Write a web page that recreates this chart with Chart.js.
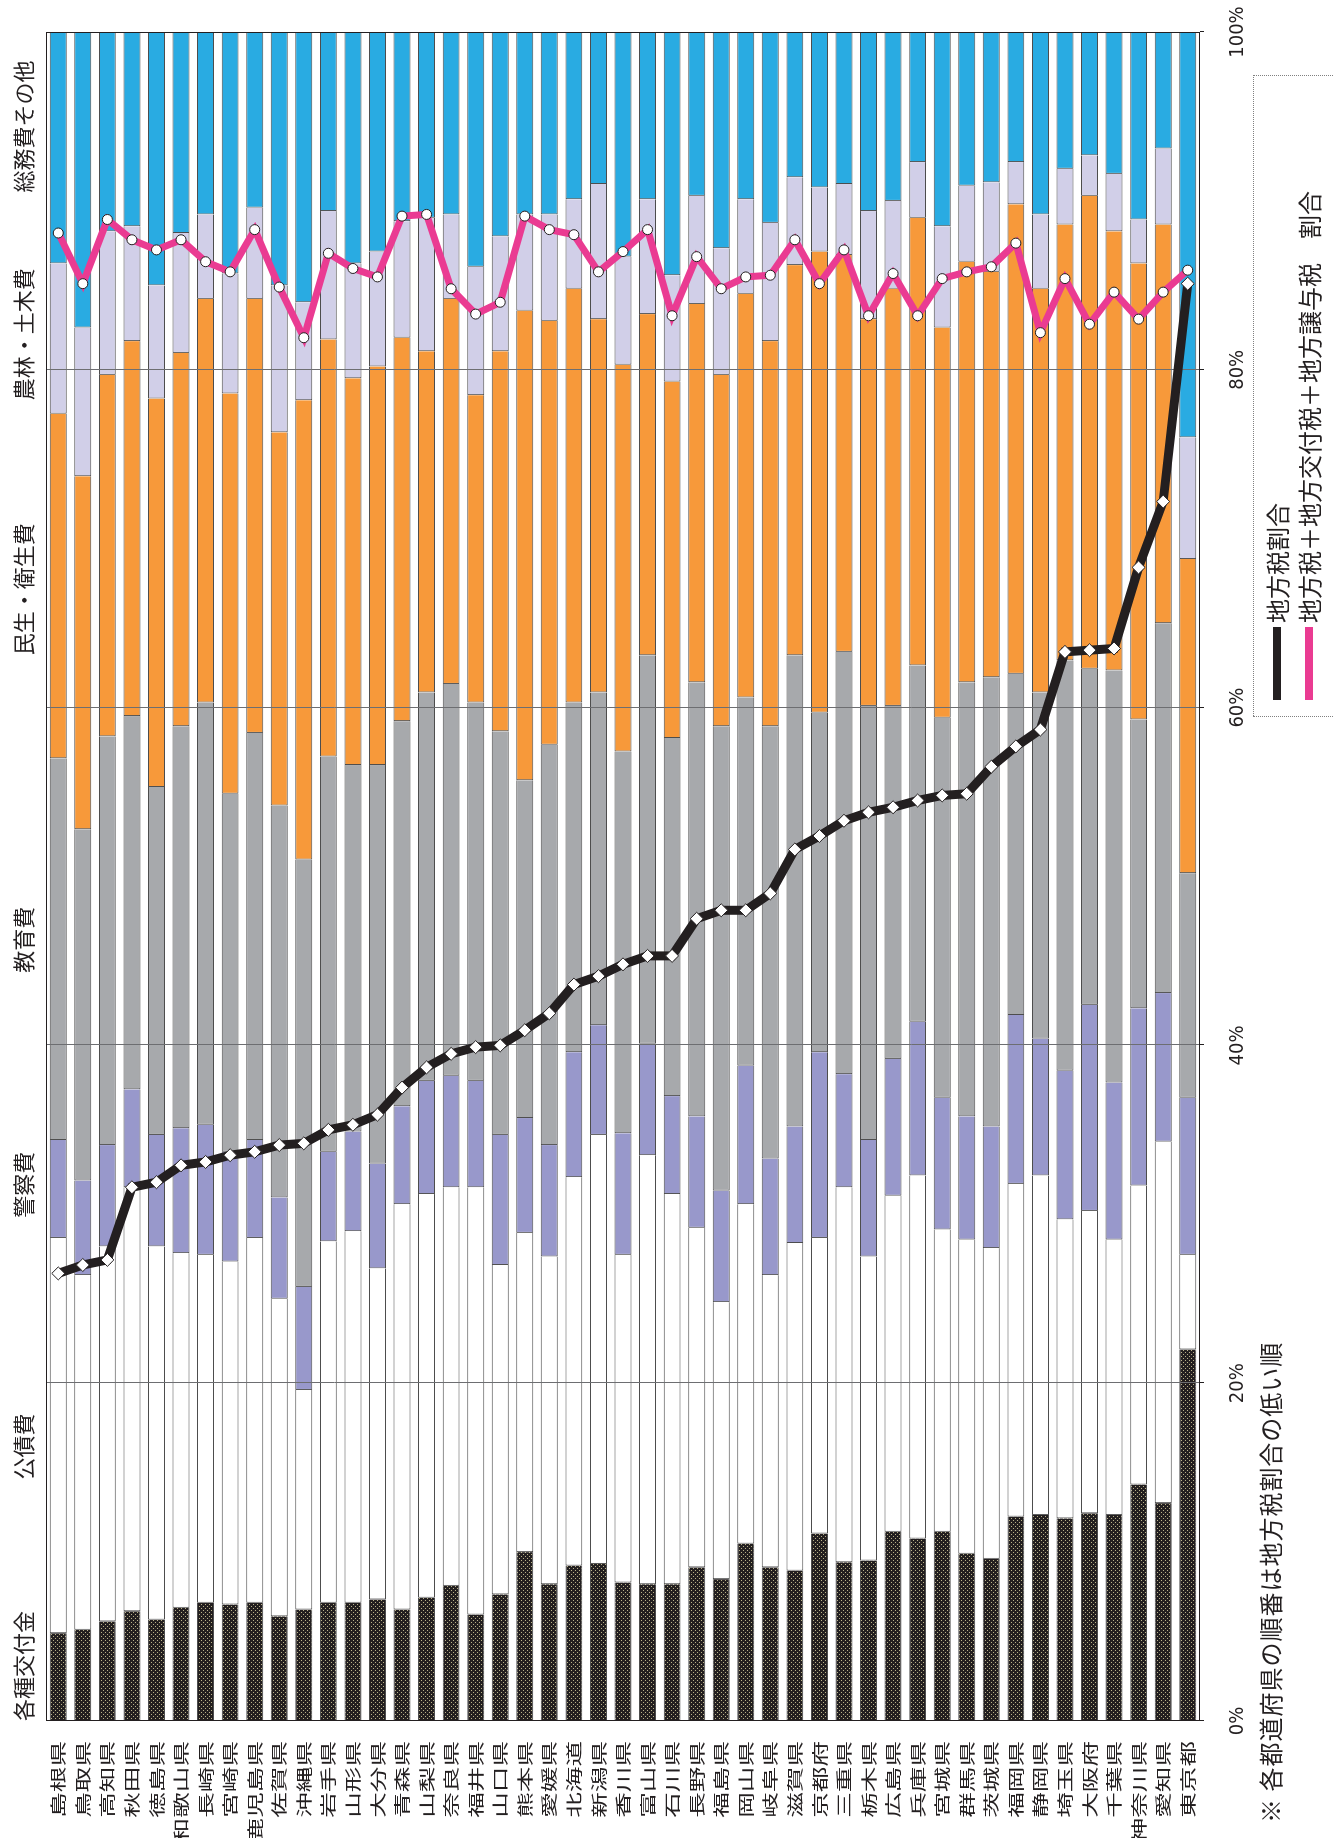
<!DOCTYPE html>
<html><head><meta charset="utf-8">
<script src="https://cdn.jsdelivr.net/npm/chart.js@4.4.1/dist/chart.umd.min.js"></script>
<style>
html,body{margin:0;padding:0;background:#fff;width:1333px;height:1838px;overflow:hidden;}
#rot{position:absolute;left:0;top:0;width:1838px;height:1333px;transform-origin:0 0;transform:translate(0px,1838px) rotate(-90deg);background:#fff;}
#c{position:absolute;left:0;top:0;}
.jp{font-family:"Noto Sans CJK JP","Noto Sans CJK SC",sans-serif;color:#231f20;white-space:nowrap;}
#legend{position:absolute;left:1121px;top:1253px;width:642px;height:140px;border:1px dotted #808080;box-sizing:border-box;}
#legend .icon{position:absolute;left:16px;width:73px;height:8px;}
#legend .ltext{position:absolute;left:93px;font-size:24px;line-height:28px;}
#note{position:absolute;left:15px;top:1256px;font-size:24px;line-height:28px;letter-spacing:1px;}
</style></head><body>
<div id="rot">
<canvas id="c" width="1838" height="1333"></canvas>
<div id="legend" class="jp"></div>
<div id="note" class="jp">※ 各都道府県の順番は地方税割合の低い順</div>
</div>
<script>
const prefectures = ['島根県','鳥取県','高知県','秋田県','徳島県','和歌山県','長崎県','宮崎県','鹿児島県','佐賀県','沖縄県','岩手県','山形県','大分県','青森県','山梨県','奈良県','福井県','山口県','熊本県','愛媛県','北海道','新潟県','香川県','富山県','石川県','長野県','福島県','岡山県','岐阜県','滋賀県','京都府','三重県','栃木県','広島県','兵庫県','宮城県','群馬県','茨城県','福岡県','静岡県','埼玉県','大阪府','千葉県','神奈川県','愛知県','東京都'];
const seriesNames = ['各種交付金','公債費','警察費','教育費','民生・衛生費','農林・土木費','総務費その他'];
const kakushu  = [5.2,5.4,5.9,6.5,6.0,6.7,7.0,6.9,7.0,6.2,6.6,7.0,7.0,7.2,6.6,7.3,8.0,6.3,7.5,10.0,8.1,9.2,9.3,8.2,8.1,8.1,9.1,8.4,10.5,9.1,8.9,11.1,9.4,9.5,11.2,10.8,11.2,9.9,9.6,12.1,12.2,12.0,12.3,12.2,14.0,12.9,22.0];
const kousai   = [23.4,21.0,22.2,25.1,22.1,21.0,20.6,20.3,21.6,18.8,13.0,21.4,22.0,19.6,24.0,23.9,23.6,25.3,19.5,18.9,19.4,23.0,25.4,19.4,25.4,23.1,20.1,16.4,20.1,17.3,19.4,17.5,22.2,18.0,19.9,21.5,17.9,18.6,18.4,19.7,20.1,17.7,17.9,16.3,17.7,21.4,5.6];
const keisatsu = [5.8,5.6,6.0,5.8,6.6,7.4,7.7,6.5,5.8,6.0,6.1,5.3,5.9,6.2,5.8,6.7,6.6,6.3,7.7,6.8,6.6,7.4,6.5,7.2,6.6,5.8,6.6,6.6,8.2,6.9,6.9,11.0,6.7,6.9,8.1,9.1,7.8,7.3,7.2,10.0,8.1,8.8,12.2,9.3,10.5,8.8,9.3];
const kyouiku  = [22.6,20.8,24.2,22.1,20.6,23.8,25.0,21.2,24.1,23.2,25.3,23.4,21.7,23.6,22.8,23.0,23.2,22.4,23.9,20.0,23.7,20.7,19.7,22.6,23.0,21.2,25.7,27.5,21.8,25.6,27.9,20.1,25.0,25.7,20.9,21.1,22.5,25.7,26.6,20.2,20.5,24.3,19.9,24.4,17.1,21.9,13.3];
const minsei   = [20.4,20.9,21.4,22.2,23.0,22.1,23.9,23.7,25.7,22.1,27.2,24.7,22.9,23.6,22.7,20.2,22.8,18.2,22.5,27.8,25.1,24.5,22.1,22.9,20.2,21.1,22.4,20.8,23.9,22.8,23.1,27.3,23.5,22.9,24.7,26.5,23.1,24.9,24.0,27.8,23.9,25.8,28.0,26.0,27.0,23.6,18.6];
const norin    = [8.9,8.8,8.5,6.8,6.7,7.1,5.0,7.1,5.4,8.7,5.8,7.6,6.8,6.8,6.9,7.9,5.0,7.6,6.8,5.7,6.3,5.3,8.0,6.4,6.8,6.3,6.4,7.5,5.6,7.0,5.2,3.8,4.2,6.4,5.2,3.3,6.0,4.5,5.3,2.5,4.4,3.3,2.4,3.4,2.6,4.5,7.2];
const soumu    = [13.7,17.5,11.8,11.5,15.0,11.9,10.8,14.3,10.4,15.0,16.0,10.6,13.7,13.0,11.2,11.0,10.8,13.9,12.1,10.8,10.8,9.9,9.0,13.3,9.9,14.4,9.7,12.8,9.9,11.3,8.6,9.2,9.0,10.6,10.0,7.7,11.5,9.1,8.9,7.7,10.8,8.1,7.3,8.4,11.1,6.9,24.0];
const lineNames = ['地方税割合','地方税＋地方交付税＋地方譲与税　割合'];
const chihouzei = [26.5,27.0,27.3,31.6,31.9,32.9,33.1,33.5,33.7,34.1,34.2,35.0,35.3,35.9,37.5,38.7,39.5,39.9,40.0,40.9,41.9,43.6,44.1,44.8,45.3,45.3,47.5,48.0,48.0,49.0,51.6,52.4,53.3,53.8,54.1,54.5,54.8,54.9,56.5,57.7,58.7,63.3,63.4,63.5,68.3,72.2,85.1];
const zeiTotal  = [88.1,85.1,88.9,87.7,87.1,87.7,86.4,85.8,88.3,84.9,81.9,86.9,86.0,85.5,89.1,89.2,84.8,83.3,84.0,89.1,88.3,88.0,85.8,87.0,88.3,83.2,86.7,84.8,85.5,85.6,87.7,85.1,87.1,83.2,85.7,83.2,85.4,85.8,86.1,87.5,82.2,85.4,82.7,84.6,83.0,84.6,85.9];
const valueTicks = [0,20,40,60,80,100];
const gridValues = [20,40,60,80];

// layout (not data)
const headerAt = [0,14.3,29.8,44.3,63.1,78.2,90.5];
const headerY = 24;
const JP = '"Noto Sans CJK JP","Noto Sans CJK SC",sans-serif';
const INK = '#231f20';

const canvas = document.getElementById('c');
const ctx = canvas.getContext('2d');
function dotPattern(){
  const p = document.createElement('canvas'); p.width = 4; p.height = 4;
  const g = p.getContext('2d');
  g.fillStyle = '#231f20'; g.fillRect(0,0,4,4);
  g.fillStyle = '#b9b28a'; g.fillRect(1,1,1,1); g.fillRect(3,3,1,1);
  return ctx.createPattern(p,'repeat');
}
const barColors = [dotPattern(),'#ffffff','#9898cb','#a7a9ac','#f7993a','#d1cfe8','#29abe2'];
const seriesData = [kakushu,kousai,keisatsu,kyouiku,minsei,norin,soumu];

// legend (HTML)
const lg = document.getElementById('legend');
const lcol = [INK,'#ea3b92'];
lineNames.forEach((n,i)=>{
  const ic = document.createElement('div'); ic.className='icon';
  ic.style.top = (19 + i*32) + 'px'; ic.style.background = lcol[i]; lg.appendChild(ic);
  const t = document.createElement('div'); t.className='ltext'; t.textContent = n;
  t.style.top = (9 + i*32) + 'px'; lg.appendChild(t);
});

const deco = {
  id: 'deco',
  beforeDatasetsDraw(chart){ chart.$gridDone = false; },
  beforeDatasetDraw(chart, args){
    if (chart.$gridDone || chart.data.datasets[args.index].type !== 'line') return;
    chart.$gridDone = true;
    const c = chart.ctx, a = chart.chartArea, x = chart.scales.x;
    c.save();
    c.strokeStyle = '#6d6e71'; c.lineWidth = 1;
    gridValues.forEach(v=>{
      const px = Math.round(x.getPixelForValue(v)) + 0.5;
      c.beginPath(); c.moveTo(px, a.top); c.lineTo(px, a.bottom); c.stroke();
    });
    c.strokeStyle = INK;
    c.strokeRect(Math.round(a.left)+0.5, Math.round(a.top)+0.5, Math.round(a.right-a.left)-1, Math.round(a.bottom-a.top)-1);
    valueTicks.forEach(v=>{
      const px = Math.round(x.getPixelForValue(v)) + 0.5;
      c.beginPath(); c.moveTo(px, a.bottom); c.lineTo(px, a.bottom+4); c.stroke();
    });
    c.restore();
  },
  afterDraw(chart){
    const c = chart.ctx, a = chart.chartArea, x = chart.scales.x, y = chart.scales.y;
    c.save();
    c.fillStyle = INK;
    c.font = '16px ' + JP;
    c.textAlign = 'right'; c.textBaseline = 'middle';
    prefectures.forEach((p,i)=>{
      const py = y.getPixelForValue(i);
      c.save(); c.translate(a.left - 20, py); c.scale(1.6, 1); c.fillText(p, 0, 0); c.restore();
    });
    c.font = '22px ' + JP; c.textAlign = 'left';
    seriesNames.forEach((n,i)=>{ c.fillText(n, x.getPixelForValue(headerAt[i]), headerY); });
    c.restore();
  }
};

const datasets = seriesData.map((d,i)=>({
  type:'bar', label:seriesNames[i], data:d, indexAxis:'y',
  backgroundColor:barColors[i], borderColor:'#4d4d4d',
  borderWidth:{top:1,bottom:1,left:1,right:0}, borderSkipped:false,
  barPercentage:0.69, categoryPercentage:1, order:2
}));
datasets.push({
  type:'line', label:lineNames[1], data:zeiTotal, indexAxis:'y', stack:'s2', order:1,
  borderColor:'#ea3b92', borderWidth:7, tension:0, fill:false, borderJoinStyle:'miter',
  pointStyle:'circle', pointRadius:5, pointBackgroundColor:'#ffffff', pointBorderColor:INK, pointBorderWidth:1
});
datasets.push({
  type:'line', label:lineNames[0], data:chihouzei, indexAxis:'y', stack:'s1', order:0,
  borderColor:INK, borderWidth:9, tension:0, fill:false, borderJoinStyle:'miter',
  pointStyle:'rectRot', pointRadius:6.5, pointBackgroundColor:'#ffffff', pointBorderColor:INK, pointBorderWidth:1
});

new Chart(ctx, {
  type:'bar',
  data:{ labels:prefectures, datasets },
  plugins:[deco],
  options:{
    indexAxis:'y', responsive:false, animation:false, devicePixelRatio:1,
    layout:{ padding:{ left:117, right:32, top:46, bottom:0 } },
    plugins:{ legend:{display:false}, tooltip:{enabled:false}, title:{display:false} },
    scales:{
      x:{ type:'linear', stacked:true, min:0, max:100, position:'bottom',
          afterBuildTicks:s=>{ s.ticks = valueTicks.map(v=>({value:v})); },
          afterFit:s=>{ s.height = 133; s.paddingLeft = 0; s.paddingRight = 0; },
          ticks:{ callback:v=>v+'%', autoSkip:false, maxRotation:0, padding:26, color:INK,
                  font:{ family:'"Liberation Sans Narrow","DejaVu Sans Condensed","Liberation Sans",sans-serif', size:20 } },
          grid:{ display:false, drawTicks:false }, border:{ display:false } },
      y:{ type:'category', stacked:true, offset:true,
          afterFit:s=>{ s.width = 0; s.paddingTop = 0; s.paddingBottom = 0; },
          ticks:{ display:false }, grid:{ display:false, drawTicks:false }, border:{ display:false } }
    }
  }
});
</script>
</body></html>
